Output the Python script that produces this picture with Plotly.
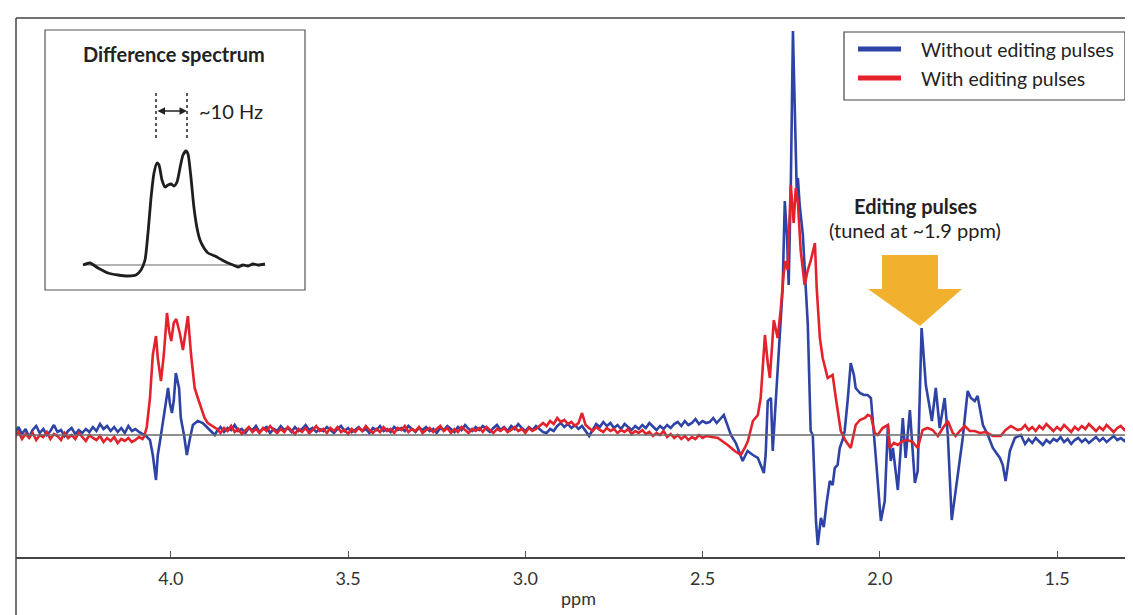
import plotly.graph_objects as go

# ---------------- data (ppm, intensity in arbitrary units) ----------------
def grid(start, stop, step=0.01):
    n = int(round((start - stop) / step)) + 1
    return [round(start - i * step, 3) for i in range(n)]

# "Without editing pulses" (blue)
blue_a_ppm = grid(4.44, 4.08)
blue_a_int = [2, 8, 1, 6, -2, 5, 9, 2, 6, 0,
              4, 10, 3, 5, -1, 4, 7, 1, 5, 2,
              6, 3, 8, 4, 11, 6, 9, 4, 8, 3,
              7, 2, 9, 4, 6, 3, 1]
blue_b_ppm = [4.073, 4.059, 4.051, 4.042, 4.037, 4.028, 4.017, 4.008, 4.003, 3.997,
              3.992, 3.986, 3.977, 3.972, 3.963, 3.955, 3.946, 3.938, 3.924, 3.910,
              3.896, 3.876]
blue_b_int = [0, -5, -20, -45, -20, 0, 27, 47, 32, 22,
              34, 62, 47, 17, 0, -20, -3, 10, 14, 12,
              7, 0]
blue_c_ppm = grid(3.87, 2.44)
blue_c_int = [4, 8, 3, 7, 5, 10, 4, 6, 2, 7,
              5, 9, 3, 6, 8, 2, 6, 4, 9, 5,
              7, 3, 8, 4, 6, 10, 5, 7, 3, 6,
              4, 8, 5, 2, 6, 9, 4, 7, 3, 5,
              8, 4, 6, 2, 7, 5, 9, 4, 6, 3,
              8, 5, 7, 4, 9, 6, 3, 7, 5, 8,
              4, 6, 2, 7, 5, 9, 6, 3, 8, 5,
              10, 6, 4, 8, 5, 9, 6, 3, 7, 10,
              5, 8, 4, 9, 6, 11, 7, 4, 8, 5,
              9, 6, 3, 2, 6, 4, 9, 12, 8, 11,
              7, 10, 6, 9, 4, -1, 5, 11, 8, 13,
              9, 12, 7, 10, 6, 11, 8, 5, 9, 6,
              10, 7, 12, 8, 5, 9, 6, 10, 7, 11,
              13, 9, 14, 10, 12, 16, 11, 14, 12, 13,
              17, 12, 16, 20]
blue_d_ppm = [2.420, 2.406, 2.387, 2.373, 2.358, 2.344, 2.327, 2.322, 2.316, 2.307,
              2.302, 2.296, 2.285, 2.274, 2.268, 2.262, 2.257, 2.251, 2.245, 2.240,
              2.234, 2.231, 2.226, 2.217, 2.209, 2.203, 2.195, 2.189, 2.180, 2.175,
              2.166, 2.158, 2.150, 2.141, 2.133, 2.127, 2.119, 2.113, 2.105, 2.099,
              2.090, 2.082, 2.073, 2.068, 2.056, 2.045, 2.034, 2.025, 2.011, 1.997,
              1.986, 1.977, 1.969, 1.963, 1.949, 1.935, 1.927, 1.915, 1.901, 1.893,
              1.882, 1.870, 1.859, 1.853, 1.842, 1.831, 1.817, 1.808, 1.797, 1.786,
              1.766, 1.752, 1.743, 1.732, 1.724, 1.709, 1.695, 1.681, 1.661, 1.653,
              1.645, 1.633, 1.619, 1.602]
blue_d_int = [0, -8, -26, -16, -20, -23, -38, -20, 34, 37,
              -16, 20, 80, 147, 234, 200, 150, 250, 404, 330,
              240, 257, 230, 200, 150, 110, 4, 0, -86, -110,
              -83, -92, -68, -46, -50, -33, -30, -13, -5, 4,
              37, 72, 60, 47, 42, 40, 40, 37, -23, -86,
              -66, 10, -26, -13, -55, 17, -23, 25, -48, -36,
              107, 50, 27, 14, 47, 7, 37, 0, -85, -56,
              -3, 44, 37, 34, 39, 10, 0, -13, -23, -30,
              -46, -16, -3, 0]
blue_e_ppm = grid(1.59, 1.26)
blue_e_int = [-9, -4, -8, -3, -7, -10, -5, -8, -4, -6,
              -2, -7, -4, -9, -5, -3, -7, -4, -8, -5,
              -2, -6, -3, -7, -4, -1, -5, -3, -6, -2,
              -5, -3, -6, -4]

# "With editing pulses" (red)
red_a_ppm = grid(4.44, 4.08)
red_a_int = [-2, 3, -4, 1, -3, 2, -5, 0, -2, 3,
             -4, 1, -1, -5, 2, -3, 0, -4, 2, -2,
             -6, 0, -3, -5, -1, -7, -3, -6, -2, -8,
             -4, -6, -3, -7, -5, -2, -4]
red_b_ppm = [4.075, 4.068, 4.059, 4.051, 4.042, 4.037, 4.028, 4.020, 4.011, 4.005,
             3.999, 3.992, 3.985, 3.975, 3.966, 3.958, 3.952, 3.943, 3.933, 3.924,
             3.915, 3.905, 3.896, 3.876]
red_b_int = [-1, 8, 37, 80, 99, 77, 54, 80, 122, 104,
             94, 112, 116, 102, 85, 105, 119, 80, 47, 37,
             27, 17, 12, 7]
red_c_ppm = grid(3.87, 2.49)
red_c_int = [6, 2, 7, 4, 9, 3, 6, 1, 5, 8,
             3, 6, 2, 7, 4, 9, 5, 2, 6, 3,
             8, 4, 1, 6, 3, 7, 2, 5, 9, 4,
             6, 2, 7, 4, 8, 3, 5, 1, 6, 3,
             7, 4, 9, 5, 2, 6, 3, 8, 4, 6,
             2, 7, 5, 9, 3, 6, 4, 8, 2, 5,
             7, 3, 6, 9, 4, 7, 2, 6, 3, 8,
             5, 2, 6, 4, 7, 3, 8, 5, 2, 6,
             4, 7, 3, 5, 8, 4, 6, 2, 7, 4,
             6, 9, 12, 9, 14, 11, 17, 13, 15, 11,
             13, 9, 12, 22, 10, 7, 4, 8, 5, 3,
             7, 4, 6, 2, 5, 3, 6, 1, 4, 2,
             5, 1, 3, -1, 2, 0, 4, -2, 1, -3,
             0, -4, -1, -5, -2, -4, 0, -3, -1]
red_d_ppm = [2.457, 2.429, 2.409, 2.392, 2.381, 2.372, 2.358, 2.344, 2.336, 2.324,
             2.316, 2.310, 2.299, 2.288, 2.279, 2.271, 2.266, 2.260, 2.251, 2.243,
             2.237, 2.231, 2.223, 2.212, 2.203, 2.195, 2.183, 2.178, 2.169, 2.161,
             2.147, 2.133, 2.124, 2.110, 2.096, 2.082, 2.068, 2.056, 2.042, 2.034,
             2.025, 2.014, 2.006, 1.992, 1.977, 1.972, 1.960, 1.949, 1.935, 1.921,
             1.907, 1.893, 1.879, 1.865, 1.851, 1.836, 1.822, 1.808, 1.794, 1.786,
             1.774, 1.760, 1.746, 1.732, 1.718, 1.701, 1.681, 1.659, 1.645, 1.630,
             1.611]
red_d_int = [-3, -10, -16, -20, -13, -6, 14, 20, 37, 100,
             72, 57, 115, 97, 127, 162, 174, 165, 250, 212,
             247, 232, 184, 150, 165, 174, 192, 147, 97, 77,
             57, 60, 37, 4, -6, -13, 10, 15, 17, 20,
             19, 2, 0, 7, 10, -13, -8, -10, -6, -5,
             -7, -13, 5, 7, 5, -1, 7, 14, 2, -1,
             4, 9, 4, 4, 2, 3, -1, -1, 5, 9,
             5]
red_e_ppm = grid(1.60, 1.26)
red_e_int = [6, 10, 5, 8, 4, 9, 6, 11, 7, 4,
             8, 5, 10, 6, 3, 8, 5, 9, 6, 11,
             7, 4, 8, 5, 10, 6, 3, 7, 9, 5,
             8, 4, 7, 5, 3]

# Inset: difference spectrum (arbitrary units)
diff_x = [38, 45, 53, 63, 73, 83, 91, 96, 100, 103, 106, 109, 112, 114, 117, 120,
          123, 126, 129, 132, 135, 138, 141, 143, 146, 149, 152, 155, 159, 163,
          170, 177, 183, 188, 193, 198, 203, 208, 213, 220]
diff_y = [25, 27, 22, 17, 15, 14, 15, 20, 30, 57, 92, 117, 127, 125, 110, 103,
          105, 106, 104, 108, 122, 135, 139, 136, 112, 82, 62, 50, 42, 37,
          34, 30, 27, 25, 23, 25, 24, 26, 25, 26]

x_ticks = [4.0, 3.5, 3.0, 2.5, 2.0, 1.5]
x_tick_labels = ["4.0", "3.5", "3.0", "2.5", "2.0", "1.5"]

blue_ppm = blue_a_ppm + blue_b_ppm + blue_c_ppm + blue_d_ppm + blue_e_ppm
blue_int = blue_a_int + blue_b_int + blue_c_int + blue_d_int + blue_e_int
red_ppm = red_a_ppm + red_b_ppm + red_c_ppm + red_d_ppm + red_e_ppm
red_int = red_a_int + red_b_int + red_c_int + red_d_int + red_e_int

BLUE = "#2d43a5"
RED = "#e3222c"
FONT = "Lato"

# ---------------- layout helpers (pixel -> paper) ----------------
W, H = 1133, 615
L, R, T, B = 8, 0, 10, 66
PW, PH = W - L - R, H - T - B
def px(x):
    return (x - L) / PW
def py(y):
    return (H - B - y) / PH

fig = go.Figure()
fig.add_trace(go.Scatter(x=blue_ppm, y=blue_int, mode="lines",
                         line=dict(color=BLUE, width=2.6), name="Without editing pulses",
                         showlegend=False))
fig.add_trace(go.Scatter(x=red_ppm, y=red_int, mode="lines",
                         line=dict(color=RED, width=2.6), name="With editing pulses",
                         showlegend=False))
fig.add_trace(go.Scatter(x=diff_x, y=diff_y, mode="lines", xaxis="x2", yaxis="y2",
                         line=dict(color="#1e1e1e", width=2.8, shape="spline", smoothing=0.6),
                         showlegend=False))

shapes = []
# zero baseline
shapes.append(dict(type="line", xref="paper", yref="y", x0=0, x1=1, y0=0, y1=0,
                   line=dict(color="#6b6b6b", width=1.3), layer="above"))
# frame lines
shapes.append(dict(type="line", xref="paper", yref="paper", x0=0, x1=1, y0=1, y1=1,
                   line=dict(color="#444", width=1.5)))
shapes.append(dict(type="line", xref="paper", yref="paper", x0=0, x1=0, y0=py(H), y1=1,
                   line=dict(color="#444", width=1.5)))
# inset box
shapes.append(dict(type="rect", xref="paper", yref="paper", x0=px(37), x1=px(297),
                   y0=py(282), y1=py(22), line=dict(color="#555", width=1.2),
                   fillcolor="rgba(0,0,0,0)"))
# inset baseline
shapes.append(dict(type="line", xref="x2", yref="y2", x0=38, x1=220, y0=25, y1=25,
                   line=dict(color="#9a9a9a", width=1.5), layer="below"))
# dashed markers
for xx in (148, 179):
    shapes.append(dict(type="line", xref="paper", yref="paper", x0=px(xx), x1=px(xx),
                       y0=py(130), y1=py(83), line=dict(color="#222", width=1.5, dash="3px,3px")))
# legend box + samples
shapes.append(dict(type="rect", xref="paper", yref="paper", x0=px(836), x1=px(1117),
                   y0=py(92), y1=py(24), line=dict(color="#444", width=1.2), fillcolor="white"))
shapes.append(dict(type="line", xref="paper", yref="paper", x0=px(850), x1=px(893),
                   y0=py(41), y1=py(41), line=dict(color=BLUE, width=5)))
shapes.append(dict(type="line", xref="paper", yref="paper", x0=px(850), x1=px(893),
                   y0=py(70), y1=py(70), line=dict(color=RED, width=5)))
# orange arrow
pts = [(874, 247), (930, 247), (930, 281), (954, 281), (912, 318), (860, 281), (874, 281)]
path = "M " + " L ".join(f"{px(a):.5f},{py(b):.5f}" for a, b in pts) + " Z"
shapes.append(dict(type="path", xref="paper", yref="paper", path=path,
                   fillcolor="#f1b12e", line=dict(width=0)))

ann = []
def text(x, y, s, size=20, anchor="center", bold=False):
    ann.append(dict(x=px(x), y=py(y), xref="paper", yref="paper", text=f"<b>{s}</b>" if bold else s,
                    showarrow=False, xanchor=anchor, yanchor="middle",
                    font=dict(family=FONT, size=size, color="#222")))
text(166, 46, "Difference spectrum", bold=True)
text(189, 103, "~10 Hz", anchor="left")
text(907, 198, "Editing pulses", bold=True)
text(907, 222, "(tuned at ~1.9 ppm)")
text(911, 41, "Without editing pulses", size=19.4, anchor="left")
text(911, 70, "With editing pulses", size=19.4, anchor="left")
ann.append(dict(x=px(179), y=py(103), xref="paper", yref="paper", ax=-31, ay=0,
                text="", showarrow=True, arrowhead=2, arrowside="end+start",
                arrowsize=1, arrowwidth=1.5, arrowcolor="#222", standoff=0, startstandoff=0))

fig.update_layout(
    width=W, height=H,
    margin=dict(l=L, r=R, t=T, b=B),
    paper_bgcolor="white", plot_bgcolor="white",
    shapes=shapes, annotations=ann,
    font=dict(family=FONT, color="#333"),
    xaxis=dict(range=[4.437, 1.263], tickvals=x_ticks, ticktext=x_tick_labels,
               ticks="inside", ticklen=6, tickwidth=1, tickcolor="#555",
               showline=True, linecolor="#444", linewidth=1.5,
               showgrid=False, zeroline=False, ticklabelstandoff=5,
               tickfont=dict(family=FONT, size=18, color="#333"),
               title=dict(text="ppm", font=dict(family=FONT, size=18, color="#333"), standoff=4)),
    yaxis=dict(range=[-122, 417], visible=False),
    xaxis2=dict(domain=[px(37), px(297)], range=[0, 260], anchor="y2", visible=False),
    yaxis2=dict(domain=[py(282), py(22)], range=[0, 260], anchor="x2", visible=False),
)

fig.write_html("out.html")
